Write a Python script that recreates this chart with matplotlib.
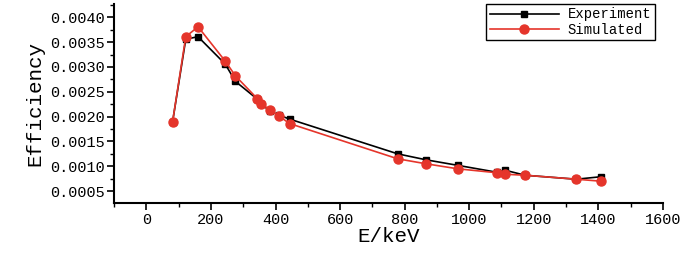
import matplotlib
matplotlib.use("Agg")
import matplotlib.pyplot as plt
from matplotlib.ticker import MultipleLocator

# energies (keV) and efficiencies
energy = [81, 122, 160, 244, 276, 344, 356, 384, 411, 444,
          779, 867, 964, 1086, 1112, 1173, 1332, 1408]
experiment = [0.00189, 0.00356, 0.00361, 0.00306, 0.00271, 0.00235, 0.00225, 0.00211, 0.00203, 0.00195,
              0.00125, 0.00113, 0.00102, 0.00088, 0.00092, 0.00082, 0.00074, 0.00079]
simulated = [0.00189, 0.00361, 0.00381, 0.00312, 0.00282, 0.00236, 0.00226, 0.00213, 0.00201, 0.00186,
             0.00115, 0.00105, 0.00095, 0.00087, 0.00084, 0.00082, 0.00074, 0.00070]

plt.rcParams['font.family'] = ['Liberation Mono', 'DejaVu Sans']

fig = plt.figure(figsize=(7, 2.62), dpi=100)
ax = fig.add_axes([0.163, 0.225, 0.784, 0.76])

ax.plot(energy, experiment, color="black", lw=1.2, marker="s", ms=5, label="Experiment")
ax.plot(energy, simulated, color="#e5352b", lw=1.2, marker="o", ms=6.5, label="Simulated")

ax.set_xlim(-100, 1600)
ax.set_ylim(0.00026, 0.00427)
ax.xaxis.set_major_locator(MultipleLocator(200))
ax.xaxis.set_minor_locator(MultipleLocator(100))
ax.yaxis.set_major_locator(MultipleLocator(0.0005))
ax.yaxis.set_minor_locator(MultipleLocator(0.00025))
ax.yaxis.set_major_formatter(plt.FuncFormatter(lambda v, p: "%.4f" % v))

ax.spines["top"].set_visible(False)
ax.spines["right"].set_visible(False)
ax.spines["left"].set_linewidth(1.5)
ax.spines["bottom"].set_linewidth(1.5)
ax.tick_params(which="major", length=5, width=1.2, labelsize=11, pad=2)
ax.tick_params(which="minor", length=3, width=1.0)

ax.set_xlabel("E/keV", fontsize=15, labelpad=0)
ax.set_ylabel("Efficiency", fontsize=15)

leg = ax.legend(loc="upper right", bbox_to_anchor=(0.985, 1.0), borderaxespad=0,
                fontsize=10, fancybox=False, edgecolor="black", framealpha=1,
                handlelength=5, handletextpad=0.6, borderpad=0.25, labelspacing=0.1)
leg.get_frame().set_linewidth(1.0)

fig.savefig("out.png", dpi=100)
